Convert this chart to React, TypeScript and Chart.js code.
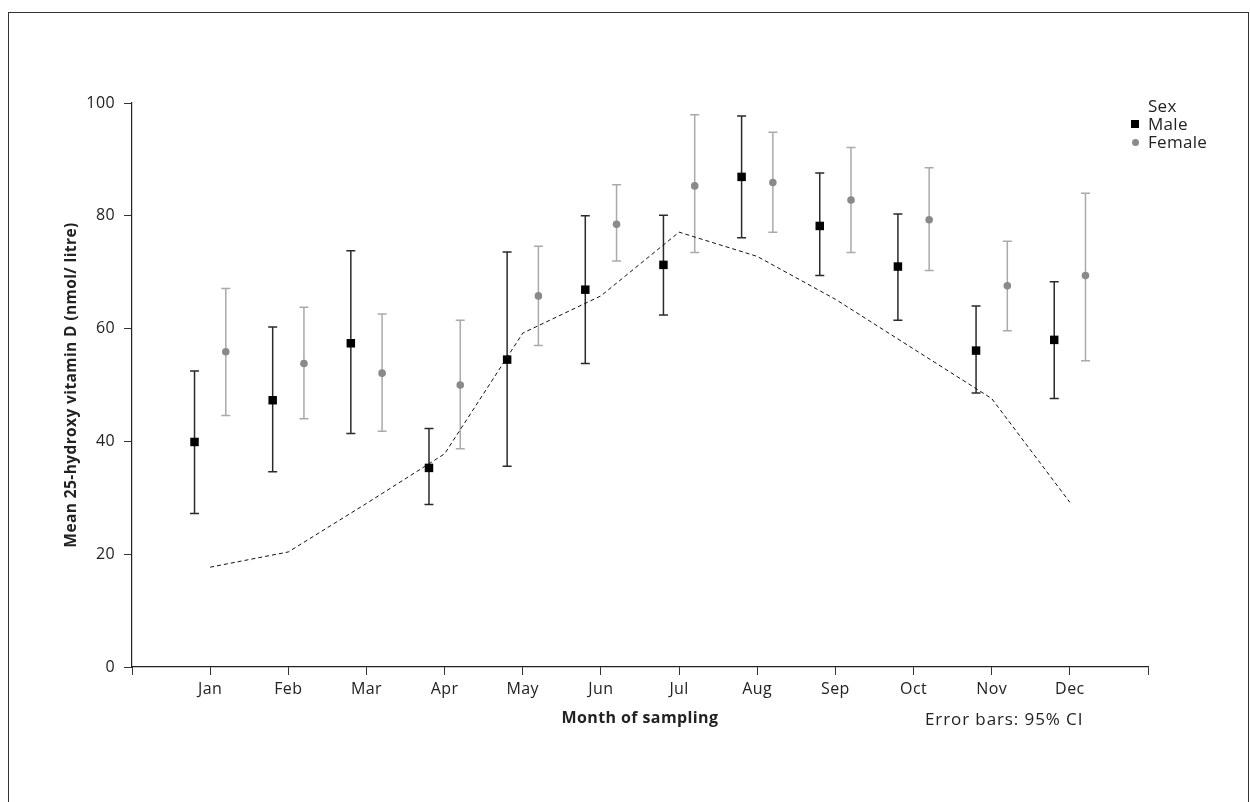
import React, { useEffect, useRef } from 'react';
import { Chart, registerables } from 'chart.js';

Chart.register(...registerables);

const monthLabels = ['Jan', 'Feb', 'Mar', 'Apr', 'May', 'Jun', 'Jul', 'Aug', 'Sep', 'Oct', 'Nov', 'Dec'];
const yTickValues = [0, 20, 40, 60, 80, 100];

const maleMean = [39.9, 47.3, 57.4, 35.3, 54.5, 66.9, 71.3, 86.9, 78.2, 71.0, 56.1, 58.0];
const maleLower = [27.2, 34.6, 41.4, 28.8, 35.6, 53.8, 62.4, 76.1, 69.4, 61.5, 48.6, 47.6];
const maleUpper = [52.5, 60.3, 73.8, 42.3, 73.6, 80.0, 80.1, 97.7, 87.6, 80.3, 64.0, 68.3];

const femaleMean = [55.9, 53.8, 52.1, 50.0, 65.8, 78.5, 85.3, 85.9, 82.8, 79.3, 67.6, 69.4];
const femaleLower = [44.6, 44.0, 41.8, 38.7, 57.0, 72.0, 73.5, 77.1, 73.5, 70.3, 59.6, 54.3];
const femaleUpper = [67.1, 63.8, 62.6, 61.5, 74.6, 85.5, 97.9, 94.8, 92.1, 88.5, 75.5, 84.0];

const overallTrend = [17.7, 20.4, 29.0, 37.8, 59.2, 65.8, 77.1, 72.8, 65.2, 56.4, 47.6, 29.2];

const SEX_OFFSET = 0.2;
const FONT = "'Open Sans', 'DejaVu Sans', sans-serif";
const TEXT = '#222';

const letterSpacingPlugin = {
  id: 'letterSpacing',
  beforeDraw(chart: any) {
    try {
      (chart.ctx as any).letterSpacing = '0.4px';
    } catch (e) {
      /* ignore */
    }
  },
};

const errorBarPlugin = {
  id: 'errorBars',
  beforeDatasetsDraw(chart: any) {
    const { ctx, scales } = chart;
    const x = scales.x;
    const y = scales.y;
    chart.data.datasets.forEach((ds: any) => {
      const eb = ds.errorBars;
      if (!eb) return;
      ctx.save();
      ctx.strokeStyle = eb.color;
      ctx.lineWidth = eb.width;
      ds.data.forEach((pt: any, j: number) => {
        const px = x.getPixelForValue(pt.x);
        const yl = y.getPixelForValue(eb.lower[j]);
        const yu = y.getPixelForValue(eb.upper[j]);
        const c = eb.cap;
        ctx.beginPath();
        ctx.moveTo(px, yu);
        ctx.lineTo(px, yl);
        ctx.moveTo(px - c, yu);
        ctx.lineTo(px + c, yu);
        ctx.moveTo(px - c, yl);
        ctx.lineTo(px + c, yl);
        ctx.stroke();
      });
      ctx.restore();
    });
  },
};

function ChartView() {
  const ref = useRef<HTMLCanvasElement | null>(null);

  useEffect(() => {
    if (!ref.current) return;
    const chart = new Chart(ref.current, {
      type: 'scatter',
      data: {
        datasets: [
          {
            type: 'line',
            label: 'Overall',
            data: overallTrend.map((v, i) => ({ x: i + 1, y: v })),
            borderColor: '#111',
            borderWidth: 1,
            borderDash: [4, 3],
            pointRadius: 0,
            fill: false,
            tension: 0,
          } as any,
          {
            label: 'Male',
            data: maleMean.map((v, i) => ({ x: i + 1 - SEX_OFFSET, y: v })),
            pointStyle: 'rect',
            pointRadius: 6,
            pointBackgroundColor: '#000',
            pointBorderWidth: 0,
            backgroundColor: '#000',
            borderColor: '#000',
            errorBars: { lower: maleLower, upper: maleUpper, color: '#2a2a2a', width: 1.5, cap: 4.5 },
          } as any,
          {
            label: 'Female',
            data: femaleMean.map((v, i) => ({ x: i + 1 + SEX_OFFSET, y: v })),
            pointStyle: 'circle',
            pointRadius: 3.8,
            pointBackgroundColor: '#8a8a8a',
            pointBorderWidth: 0,
            backgroundColor: '#8a8a8a',
            borderColor: '#8a8a8a',
            errorBars: { lower: femaleLower, upper: femaleUpper, color: '#aaaaaa', width: 1.5, cap: 4.5 },
          } as any,
        ],
      },
      options: {
        responsive: false,
        animation: false,
        devicePixelRatio: 1,
        layout: { padding: { top: 103, right: 102, left: 0, bottom: 0 } },
        plugins: {
          legend: { display: false },
          tooltip: { enabled: false },
        },
        scales: {
          x: {
            type: 'linear',
            position: 'bottom',
            min: 0,
            max: 13,
            afterFit(scale: any) {
              scale.height = 135;
            },
            afterBuildTicks(scale: any) {
              scale.ticks = Array.from({ length: 14 }, (_, i) => ({ value: i }));
            },
            ticks: {
              autoSkip: false,
              maxRotation: 0,
              padding: 5,
              color: TEXT,
              font: { family: FONT, size: 16 },
              callback: (v: any) => monthLabels[Number(v) - 1] ?? '',
            },
            grid: {
              drawOnChartArea: false,
              drawTicks: true,
              tickLength: 8,
              color: '#333',
              lineWidth: 1,
            },
            border: { display: true, color: '#222', width: 1.2 },
            title: {
              display: true,
              text: 'Month of sampling',
              color: TEXT,
              font: { family: FONT, size: 16, weight: 'bold' },
              padding: { top: 0, bottom: 74 },
            },
          },
          y: {
            type: 'linear',
            min: 0,
            max: 100,
            afterFit(scale: any) {
              scale.width = 132;
            },
            afterBuildTicks(scale: any) {
              scale.ticks = yTickValues.map((v) => ({ value: v }));
            },
            ticks: {
              padding: 9,
              color: TEXT,
              font: { family: FONT, size: 16 },
            },
            grid: {
              drawOnChartArea: false,
              drawTicks: true,
              tickLength: 8,
              color: '#333',
              lineWidth: 1,
            },
            border: { display: true, color: '#222', width: 1.2 },
            title: {
              display: true,
              text: 'Mean 25-hydroxy vitamin D (nmol/ litre)',
              color: TEXT,
              font: { family: FONT, size: 15.5, weight: 'bold' },
              padding: { top: 62, bottom: 0 },
            },
          },
        },
      } as any,
      plugins: [letterSpacingPlugin, errorBarPlugin],
    });
    return () => chart.destroy();
  }, []);

  return <canvas ref={ref} width={1250} height={802} style={{ position: 'absolute', left: 0, top: 0, width: 1250, height: 802 }} />;
}

export default function App() {
  const legendText: React.CSSProperties = {
    position: 'absolute',
    left: 1148,
    fontFamily: FONT,
    fontSize: 17,
    letterSpacing: '0.3px',
    lineHeight: '18px',
    color: TEXT,
    whiteSpace: 'nowrap',
  };
  return (
    <div style={{ position: 'fixed', left: 0, top: 0, width: 1250, height: 802, background: '#fff', overflow: 'hidden' }}>
      <div
        style={{
          position: 'absolute',
          left: 8,
          top: 12,
          width: 1241,
          height: 900,
          boxSizing: 'border-box',
          borderTop: '1.6px solid #333',
          borderLeft: '1.6px solid #333',
          borderRight: '1.6px solid #333',
        }}
      />
      <ChartView />
      <div style={{ ...legendText, top: 97 }}>Sex</div>
      <div style={{ position: 'absolute', left: 1131, top: 120, width: 8, height: 8, background: '#000' }} />
      <div style={{ ...legendText, top: 115 }}>Male</div>
      <div style={{ position: 'absolute', left: 1131.5, top: 138.5, width: 7, height: 7, borderRadius: '50%', background: '#8a8a8a' }} />
      <div style={{ ...legendText, top: 133 }}>Female</div>
      <div style={{ ...legendText, left: 925, top: 710, letterSpacing: '0.9px' }}>Error bars: 95% CI</div>
    </div>
  );
}
